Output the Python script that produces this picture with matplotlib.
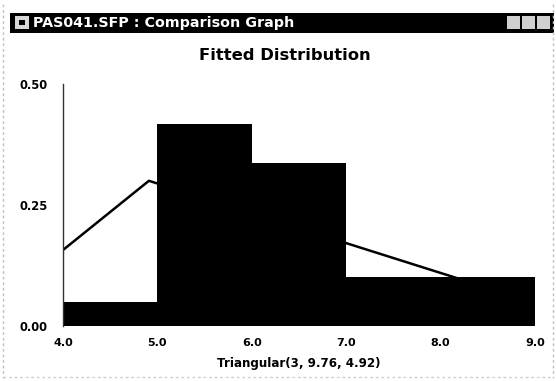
import matplotlib
matplotlib.use("Agg")
import matplotlib.pyplot as plt
from matplotlib.patches import Rectangle

# Data
bin_edges = [4.0, 5.0, 6.0, 7.0, 8.0, 9.0]
bin_heights = [0.05, 0.417, 0.337, 0.101, 0.101]
fit_x = [4.0, 4.91, 9.0]
fit_y = [0.157, 0.300, 0.048]
xticks = [4.0, 5.0, 6.0, 7.0, 8.0, 9.0]
yticks = [0.0, 0.25, 0.5]
window_title = "PAS041.SFP : Comparison Graph"
chart_title = "Fitted Distribution"
xlabel = "Triangular(3, 9.76, 4.92)"

W, H = 556, 381
fig = plt.figure(figsize=(W/100, H/100), dpi=100)
fig.patch.set_facecolor("white")

def fx(px):
    return px / W

def fy(py):
    return 1 - py / H

# window frame (light dotted grey edges)
fig.add_artist(plt.Line2D([fx(3), fx(3)], [fy(4), fy(378)], transform=fig.transFigure,
                          color="#c0c0c0", lw=1, ls=(0, (2, 2))))
fig.add_artist(plt.Line2D([fx(553), fx(553)], [fy(4), fy(378)], transform=fig.transFigure,
                          color="#c0c0c0", lw=1, ls=(0, (2, 2))))
fig.add_artist(plt.Line2D([fx(3), fx(553)], [fy(377), fy(377)], transform=fig.transFigure,
                          color="#d0d0d0", lw=1, ls=(0, (2, 2))))

# title bar
fig.patches.append(Rectangle((fx(10), fy(33)), (554-10)/W, 20/H, transform=fig.transFigure,
                             facecolor="black", edgecolor="none"))
fig.patches.append(Rectangle((fx(15), fy(29)), 14/W, 13/H, transform=fig.transFigure,
                             facecolor="#d8d8d8", edgecolor="none"))
fig.patches.append(Rectangle((fx(19), fy(25)), 6/W, 5/H, transform=fig.transFigure,
                             facecolor="black", edgecolor="none"))
for xx in [507, 522, 537]:
    fig.patches.append(Rectangle((fx(xx), fy(29)), 13/W, 13/H, transform=fig.transFigure,
                                 facecolor="#d0d0d0", edgecolor="none"))
fig.text(fx(33), fy(23), window_title, color="white", fontsize=10.3, fontweight="bold",
         va="center", ha="left")

# axes
ax = fig.add_axes([fx(63), fy(326), (535-63)/W, (326-84)/H])
ax.set_facecolor("white")

ax.plot(fit_x, fit_y, color="black", lw=1.8, zorder=1)
lefts = bin_edges[:-1]
widths = [b - a for a, b in zip(bin_edges[:-1], bin_edges[1:])]
ax.bar(lefts, bin_heights, width=widths, align="edge", color="black", zorder=2)

ax.set_xlim(4.0, 9.0)
ax.set_ylim(0, 0.5)
for s in ["top", "right", "bottom"]:
    ax.spines[s].set_visible(False)
ax.spines["left"].set_color("#333333")
ax.spines["left"].set_linewidth(1.0)

ax.set_xticks(xticks)
ax.set_xticklabels([f"{v:.1f}" for v in xticks], fontsize=8, fontweight="bold")
ax.set_yticks(yticks)
ax.set_yticklabels([f"{v:.2f}" for v in yticks], fontsize=8.3, fontweight="bold")
ax.tick_params(axis="x", direction="in", color="white", length=3, pad=9)
ax.tick_params(axis="y", length=0, pad=11)

ax.set_xlabel(xlabel, fontsize=8.6, fontweight="bold", labelpad=6)
fig.text(fx(285), fy(55), chart_title, fontsize=11.8, fontweight="bold", ha="center", va="center")

fig.savefig("out.png", dpi=100)
